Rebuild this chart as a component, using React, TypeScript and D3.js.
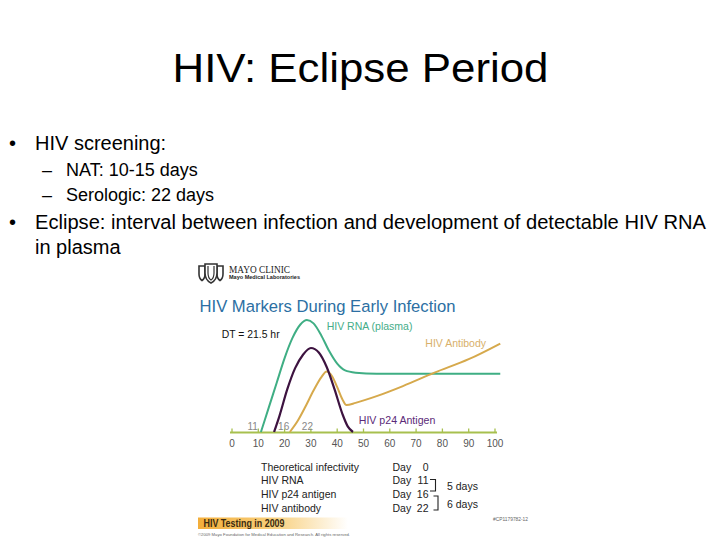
import React from "react";
import * as d3 from "d3";

// ---- data ----
const rnaDays = [11, 14, 17, 20, 23, 26, 28.5, 31, 34, 37, 40, 43, 47, 55, 70, 85, 102];
const rnaLevel = [0, 22, 44, 66, 84, 96, 100, 97, 86, 72, 61, 55, 53, 52, 52, 52, 52];
const p24Days = [16, 18, 21, 24, 27, 30, 33, 36, 39, 42, 44, 46];
const p24Level = [0, 14, 38, 57, 69, 75, 71, 58, 38, 16, 5, 0];
const abDays = [22, 25, 28, 31, 34, 36, 38, 40, 42, 43.5, 47, 55, 65, 77, 90, 102];
const abLevel = [0, 10, 23, 37, 49, 54, 50, 40, 29, 24, 26, 32, 41, 53, 65, 79];
const xTicks = [0, 10, 20, 30, 40, 50, 60, 70, 80, 90, 100];
const startDays = [11, 16, 22];
const tableLabels = ["Theoretical infectivity", "HIV RNA", "HIV p24 antigen", "HIV antibody"];
const tableDays = [0, 11, 16, 22];
const gapLabels = ["5 days", "6 days"];
const bulletLines = ["HIV screening:", "Eclipse: interval between infection and  development of detectable HIV RNA"];
const subLines = ["NAT: 10-15 days", "Serologic: 22 days"];

const FONT = "'Liberation Sans', Arial, Helvetica, sans-serif";

export default function App() {
  const x = d3.scaleLinear().domain([0, 100]).range([232, 495]);
  const y = d3.scaleLinear().domain([0, 100]).range([432, 320]);
  const line = d3
    .line<[number, number]>()
    .x((d) => x(d[0]))
    .y((d) => y(d[1]))
    .curve(d3.curveMonotoneX);
  const rna = rnaDays.map((d, i) => [d, rnaLevel[i]] as [number, number]);
  const p24 = p24Days.map((d, i) => [d, p24Level[i]] as [number, number]);
  const ab = abDays.map((d, i) => [d, abLevel[i]] as [number, number]);

  const startOffsets = [
    { dx: -3, anchor: "end" },
    { dx: 4, anchor: "start" },
    { dx: 12, anchor: "start" },
  ];
  const rowY = [470.5, 484, 497.5, 511.5];

  return (
    <svg
      width={720}
      height={540}
      style={{ position: "absolute", left: 0, top: 0, background: "#fff" }}
      fontFamily={FONT}
    >
      <rect width={720} height={540} fill="#fff" />
      {/* slide title */}
      <text x={172.5} y={82} fontSize={41} textLength={376} lengthAdjust="spacingAndGlyphs" fill="#000">
        HIV: Eclipse Period
      </text>
      {/* bullets */}
      <text x={9} y={150} fontSize={20} fill="#000">•</text>
      <text x={35} y={150} fontSize={20} fill="#000">{bulletLines[0]}</text>
      <text x={42} y={176} fontSize={18} fill="#000">–</text>
      <text x={66} y={176} fontSize={18} fill="#000">{subLines[0]}</text>
      <text x={42} y={201} fontSize={18} fill="#000">–</text>
      <text x={66} y={201} fontSize={18} fill="#000">{subLines[1]}</text>
      <text x={9} y={229} fontSize={20} fill="#000">•</text>
      <text x={35} y={229} fontSize={20} fill="#000" textLength={671} lengthAdjust="spacingAndGlyphs">
        {bulletLines[1]}
      </text>
      <text x={35} y={254} fontSize={20} fill="#000">in plasma</text>

      {/* Mayo logo */}
      <g fill="#fff" stroke="#333" strokeWidth={1.6}>
        <path d="M199,266 H205 V274 Q205,278.5 202,280.5 Q199,278.5 199,274 Z" />
        <path d="M217,266 H223 V274 Q223,278.5 220,280.5 Q217,278.5 217,274 Z" />
        <path d="M205,264 H217 V273 Q217,280 211,283 Q205,280 205,273 Z" />
        <path d="M208,266 V273 Q208,278 211,280 Q214,278 214,273 V266" fill="none" strokeWidth={1.2} />
      </g>
      <text x={229} y={272.5} fontSize={9.5} fontFamily="'Liberation Serif', 'DejaVu Serif', serif" fill="#222" textLength={61} lengthAdjust="spacingAndGlyphs">
        MAYO CLINIC
      </text>
      <text x={229} y={279} fontSize={5.5} fontWeight="bold" fill="#222" textLength={71} lengthAdjust="spacingAndGlyphs">
        Mayo Medical Laboratories
      </text>

      {/* chart title */}
      <text x={199.5} y={312} fontSize={16.7} fill="#2c6fa3" textLength={256} lengthAdjust="spacingAndGlyphs">
        HIV Markers During Early Infection
      </text>

      {/* axis */}
      <line x1={230} x2={497} y1={432.5} y2={432.5} stroke="#a7c04e" strokeWidth={2} />
      {xTicks.map((t) => (
        <g key={t}>
          <line x1={x(t)} x2={x(t)} y1={428.5} y2={432.5} stroke="#a7c04e" strokeWidth={1.3} />
          <text x={x(t)} y={447} fontSize={10} textAnchor="middle" fill="#555">
            {t}
          </text>
        </g>
      ))}

      {/* curves */}
      <path d={line(rna) || ""} fill="none" stroke="#3fae84" strokeWidth={2} />
      <path d={line(ab) || ""} fill="none" stroke="#d6a94c" strokeWidth={2} />
      <path d={line(p24) || ""} fill="none" stroke="#3d1340" strokeWidth={2.2} />

      {/* start labels */}
      {startDays.map((d, i) => (
        <text key={d} x={x(d) + startOffsets[i].dx} y={430} fontSize={10} fill="#888" textAnchor={startOffsets[i].anchor as any}>
          {d}
        </text>
      ))}

      {/* series labels */}
      <text x={x(36)} y={y(91)} fontSize={10.5} fill="#45ad88">HIV RNA (plasma)</text>
      <text x={x(73.5)} y={y(75.5)} fontSize={10.5} fill="#d8b06a">HIV Antibody</text>
      <text x={x(48.2)} y={y(7)} fontSize={10.6} fill="#5b2a78">HIV p24 Antigen</text>
      <text x={x(-3.9)} y={y(84)} fontSize={10.4} fill="#111">DT = 21.5 hr</text>

      {/* table */}
      {tableLabels.map((l, i) => (
        <g key={l}>
          <text x={261} y={rowY[i]} fontSize={10.5} fill="#222">{l}</text>
          <text x={392.5} y={rowY[i]} fontSize={10.5} fill="#222">Day</text>
          <text x={428.5} y={rowY[i]} fontSize={10.5} fill="#222" textAnchor="end">{tableDays[i]}</text>
        </g>
      ))}
      <path d="M430,479.5 H435.5 V491 H430" fill="none" stroke="#222" strokeWidth={1.1} />
      <path d="M433.5,496 H438 V510 H433.5" fill="none" stroke="#222" strokeWidth={1.1} />
      <text x={447} y={490} fontSize={10.5} fill="#222">{gapLabels[0]}</text>
      <text x={447} y={508} fontSize={10.5} fill="#222">{gapLabels[1]}</text>

      {/* banner */}
      <defs>
        <linearGradient id="bn" x1="0" x2="1" y1="0" y2="0">
          <stop offset="0" stopColor="#f3ae3a" />
          <stop offset="0.5" stopColor="#f8cf7c" />
          <stop offset="1" stopColor="#ffffff" />
        </linearGradient>
      </defs>
      <rect x={198} y={517.5} width={150} height={11.5} fill="url(#bn)" />
      <text x={203.5} y={527} fontSize={10} fontWeight="bold" fill="#3a2a10" textLength={81} lengthAdjust="spacingAndGlyphs">
        HIV Testing in 2009
      </text>
      <text x={198} y={535.5} fontSize={4} fill="#666" textLength={152} lengthAdjust="spacingAndGlyphs">
        ©2009 Mayo Foundation for Medical Education and Research. All rights reserved.
      </text>
      <text x={493} y={521} fontSize={4.5} fill="#666" textLength={35} lengthAdjust="spacingAndGlyphs">
        #CP1179782-12
      </text>
    </svg>
  );
}
